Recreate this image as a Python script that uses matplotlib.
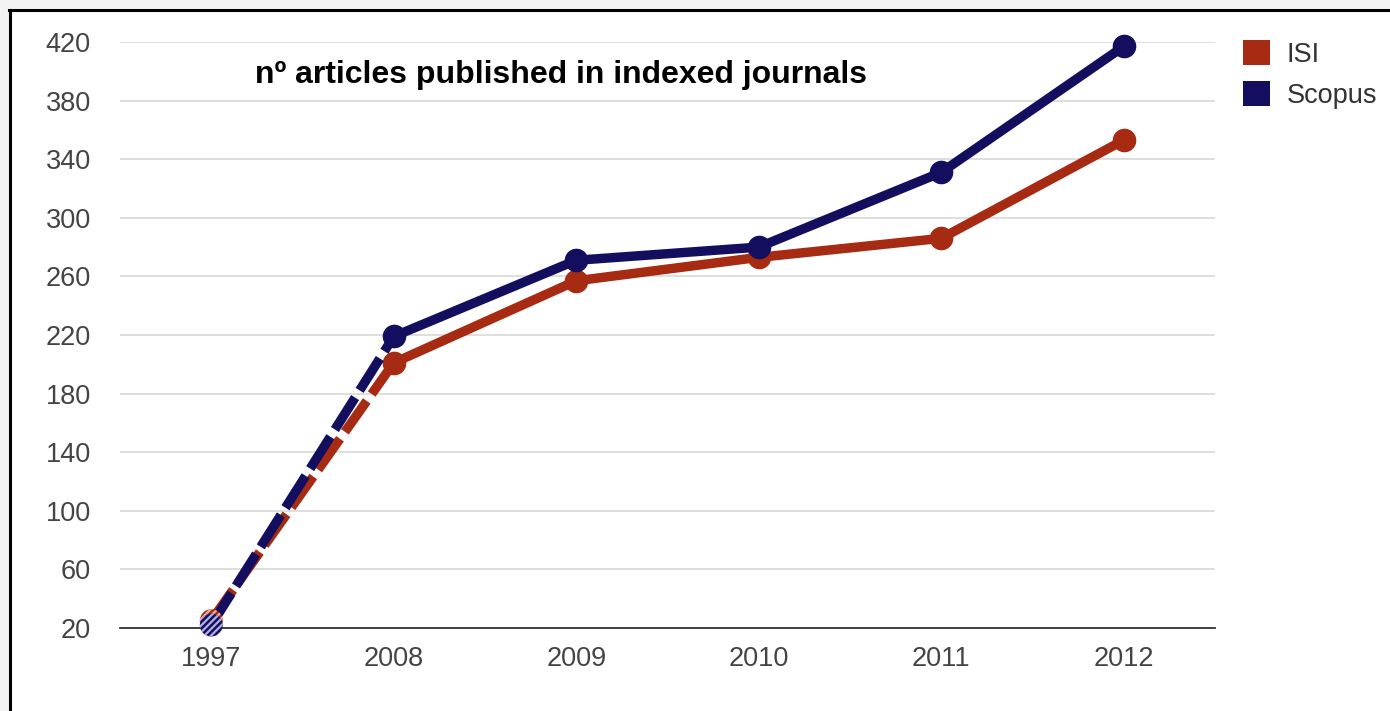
import matplotlib.pyplot as plt
from matplotlib.lines import Line2D
from matplotlib.patches import Rectangle

years = ['1997', '2008', '2009', '2010', '2011', '2012']
isi = [25, 201, 257, 273, 286, 353]
scopus = [22, 219, 271, 280, 331, 417]
yticks = [20, 60, 100, 140, 180, 220, 260, 300, 340, 380, 420]

isi_color = '#a62b12'
scopus_color = '#130f5e'

plt.rcParams['font.family'] = ['Liberation Sans', 'DejaVu Sans']

fig = plt.figure(figsize=(13.9, 7.11), dpi=100)
fig.patch.set_facecolor('white')

# light grey outer strip + black frame on top and left
fig.patches.append(Rectangle((0, 1 - 9 / 711), 1, 9 / 711, transform=fig.transFigure,
                             facecolor='#f3f3f3', edgecolor='none', zorder=0))
fig.patches.append(Rectangle((0, 0), 9 / 1390, 1, transform=fig.transFigure,
                             facecolor='#f3f3f3', edgecolor='none', zorder=0))
fig.lines.append(Line2D([9 / 1390, 1], [1 - 10 / 711, 1 - 10 / 711], transform=fig.transFigure,
                        color='black', lw=2.2))
fig.lines.append(Line2D([10 / 1390, 10 / 1390], [0, 1 - 10 / 711], transform=fig.transFigure,
                        color='black', lw=2.2))

ax = fig.add_axes([120 / 1390, 83 / 711, 1095 / 1390, 586 / 711])
x = list(range(len(years)))

for vals, col, z in [(isi, isi_color, 3), (scopus, scopus_color, 4)]:
    ax.plot(x[:2], vals[:2], color=col, lw=6.8, dashes=(4, 0.9), zorder=z,
            solid_capstyle='butt', clip_on=False)
    ax.plot(x[1:], vals[1:], color=col, lw=6.8, zorder=z, clip_on=False,
            marker='o', markersize=16, solid_joinstyle='round')

# hatched first points
plt.rcParams['hatch.linewidth'] = 1.6
ax.scatter([x[0]], [isi[0]], s=270, facecolor=isi_color, edgecolor='#f0b0a0',
           hatch='/////', linewidth=0, zorder=5, clip_on=False)
ax.scatter([x[0]], [scopus[0]], s=270, facecolor=scopus_color, edgecolor='#b0b0e0',
           hatch='/////', linewidth=0, zorder=6, clip_on=False)

ax.set_xlim(-0.5, 5.5)
ax.set_ylim(20, 420)
ax.set_xticks(x)
ax.set_xticklabels(years)
ax.set_yticks(yticks)
ax.tick_params(length=0, labelsize=19.5, labelcolor='#444444', pad=13)
ax.tick_params(axis='y', pad=21)
ax.grid(axis='y', color='#d8d8d8', lw=1.2)
ax.set_axisbelow(True)
for s in ['top', 'right', 'left']:
    ax.spines[s].set_visible(False)
ax.spines['bottom'].set_color('#333333')
ax.spines['bottom'].set_linewidth(1.3)

ax.text(0.123, 0.943, 'nº articles published in indexed journals', transform=ax.transAxes,
        fontsize=23, fontweight='bold', color='black', va='center', ha='left')

handles = [Rectangle((0, 0), 1, 1, facecolor=isi_color),
           Rectangle((0, 0), 1, 1, facecolor=scopus_color)]
fig.legend(handles, ['ISI', 'Scopus'], loc='upper left', bbox_to_anchor=(1219 / 1390, 1 - 16 / 711),
           frameon=False, fontsize=19.5, handlelength=1.0, handleheight=1.0,
           handletextpad=0.6, labelspacing=0.5, labelcolor='#333333')

fig.savefig('out.png', dpi=100)
